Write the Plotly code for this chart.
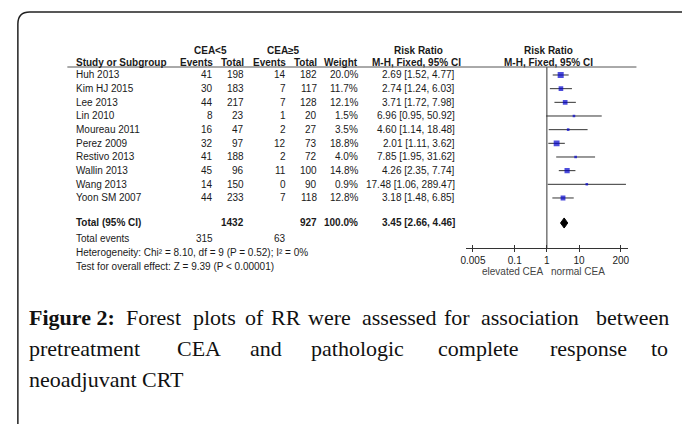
import plotly.graph_objects as go

# ---------------- data ----------------
studies = ["Huh 2013", "Kim HJ 2015", "Lee 2013", "Lin 2010", "Moureau 2011",
           "Perez 2009", "Restivo 2013", "Wallin 2013", "Wang 2013", "Yoon SM 2007"]
events_low = [41, 30, 44, 8, 16, 32, 41, 45, 14, 44]
total_low = [198, 183, 217, 23, 47, 97, 188, 96, 150, 233]
events_high = [14, 7, 7, 1, 2, 12, 2, 11, 0, 7]
total_high = [182, 117, 128, 20, 27, 73, 72, 100, 90, 118]
weights = [20.0, 11.7, 12.1, 1.5, 3.5, 18.8, 4.0, 14.8, 0.9, 12.8]
rr = [2.69, 2.74, 3.71, 6.96, 4.60, 2.01, 7.85, 4.26, 17.48, 3.18]
rr_lo = [1.52, 1.24, 1.72, 0.95, 1.14, 1.11, 1.95, 2.35, 1.06, 1.48]
rr_hi = [4.77, 6.03, 7.98, 50.92, 18.48, 3.62, 31.62, 7.74, 289.47, 6.85]
pooled = [3.45, 2.66, 4.46]
pooled_totals = [1432, 927]
pooled_events = [315, 63]
tick_vals = [0.005, 0.1, 1, 10, 200]
tick_text = ["0.005", "0.1", "1", "10", "200"]

W, H = 682, 424
def px(x):
    return x / W
def py(y):
    return 1 - y / H

SANS = "Liberation Sans, Arial, sans-serif"
SERIF = "Liberation Serif, Times New Roman, serif"
TXT = "#1a1a1a"

# row index positions (layout)
row_y = list(range(len(studies)))
total_row = 10.83
events_row = 12.0

fig = go.Figure()

# CI lines
lx, ly = [], []
for i in range(len(studies)):
    lx += [rr_lo[i], rr_hi[i], None]
    ly += [row_y[i], row_y[i], None]
fig.add_trace(go.Scatter(x=lx, y=ly, mode="lines", line=dict(color="#333333", width=1),
                         hoverinfo="skip", showlegend=False))
# null line
fig.add_trace(go.Scatter(x=[1, 1], y=[-0.585, 12.66], mode="lines",
                         line=dict(color="#333333", width=1), hoverinfo="skip",
                         showlegend=False, cliponaxis=False))
# squares
sizes = [max(2.6, 1.35 * w ** 0.5) for w in weights]
fig.add_trace(go.Scatter(x=rr, y=row_y, mode="markers",
                         marker=dict(symbol="square", size=sizes, color="#0000cc",
                                     line=dict(width=0)),
                         hoverinfo="skip", showlegend=False))
# diamond
h = 0.37
fig.add_trace(go.Scatter(x=[pooled[1], pooled[0], pooled[2], pooled[0], pooled[1]],
                         y=[total_row, total_row - h, total_row, total_row + h, total_row],
                         mode="lines", fill="toself", fillcolor="#000000",
                         line=dict(color="#000000", width=1), hoverinfo="skip",
                         showlegend=False))
# invisible trace for overlay axis
fig.add_trace(go.Scatter(x=[1], y=[-50], xaxis="x2", yaxis="y", mode="markers",
                         marker=dict(opacity=0), hoverinfo="skip", showlegend=False))

ann = []
def add(text, x, y, anchor="left", yref="y", bold=False, size=10, color=TXT, family=SANS):
    if bold:
        text = "<b>" + text + "</b>"
    ann.append(dict(text=text, x=px(x), y=(y if yref == "y" else py(y)), xref="paper",
                    yref=yref, xanchor=anchor, yanchor="middle", showarrow=False,
                    font=dict(family=family, size=size, color=color)))

# headers
add("CEA&lt;5", 207.5, 50, "center", "paper", True)
add("CEA≥5", 281.7, 50, "center", "paper", True)
add("Risk Ratio", 418, 50, "center", "paper", True)
add("Risk Ratio", 549, 50, "center", "paper", True)
add("Study or Subgroup", 70, 62.5, "left", "paper", True)
add("Events", 212.5, 62.5, "right", "paper", True)
add("Total", 244, 62.5, "right", "paper", True)
add("Events", 286, 62.5, "right", "paper", True)
add("Total", 317.5, 62.5, "right", "paper", True)
add("Weight", 359, 62.5, "right", "paper", True)
add("M-H, Fixed, 95% CI", 416, 62.5, "center", "paper", True)
add("M-H, Fixed, 95% CI", 549, 62.5, "center", "paper", True)

for i, s in enumerate(studies):
    y = row_y[i]
    add(s, 70, y, "left")
    add(str(events_low[i]), 212.5, y, "right")
    add(str(total_low[i]), 244, y, "right")
    add(str(events_high[i]), 286, y, "right")
    add(str(total_high[i]), 317.5, y, "right")
    add(f"{weights[i]:.1f}%", 359, y, "right")
    add(f"{rr[i]:.2f} [{rr_lo[i]:.2f}, {rr_hi[i]:.2f}]", 457, y, "right")

add("Total (95% CI)", 70, total_row, "left", bold=True)
add(str(pooled_totals[0]), 244, total_row, "right", bold=True)
add(str(pooled_totals[1]), 317.5, total_row, "right", bold=True)
add("100.0%", 359, total_row, "right", bold=True)
add(f"{pooled[0]:.2f} [{pooled[1]:.2f}, {pooled[2]:.2f}]", 457, total_row, "right", bold=True)
add("Total events", 70, events_row, "left")
add(str(pooled_events[0]), 212.5, events_row, "right")
add(str(pooled_events[1]), 286, events_row, "right")
add("Heterogeneity: Chi² = 8.10, df = 9 (P = 0.52); I² = 0%", 70, 252.5, "left", "paper")
add("Test for overall effect: Z = 9.39 (P &lt; 0.00001)", 70, 266.5, "left", "paper")

add("elevated CEA", 513, 271, "center", "paper", color="#444444")
add("normal CEA", 579, 271, "center", "paper", color="#444444")

# caption (justified lines placed word by word)
line1 = [("<b>Figure 2:</b>", 22), ("Forest", 120.5), ("plots", 188), ("of", 240.5),
         ("RR", 267), ("were", 304), ("assessed", 359), ("for", 442), ("association", 479),
         ("between", 595.5)]
line2 = [("pretreatment", 22), ("CEA", 172), ("and", 245.5), ("pathologic", 307),
         ("complete", 435.5), ("response", 549), ("to", 650.5)]
line3 = [("neoadjuvant CRT", 22)]
for words, yy in ((line1, 317.5), (line2, 348.5), (line3, 379.5)):
    for wtxt, xx in words:
        add(wtxt, xx, yy, "left", "paper", size=22, color="#111111", family=SERIF)

shapes = [
    # header underline
    dict(type="line", xref="paper", yref="paper", x0=px(63), x1=px(638), y0=py(67), y1=py(67),
         line=dict(color="#555555", width=1)),
    # outer rounded border
    dict(type="path", xref="paper", yref="paper",
         path=f"M {px(13)} {py(440)} L {px(13)} {py(24)} Q {px(13)} {py(12)} {px(25)} {py(12)} L {px(700)} {py(12)}",
         line=dict(color="#222222", width=1.5)),
]

xdom = [px(465.7), px(629.3)]
fig.update_layout(
    width=W, height=H, margin=dict(l=0, r=0, t=0, b=0),
    paper_bgcolor="white", plot_bgcolor="white",
    xaxis=dict(type="log", range=[-2.52, 2.52], domain=xdom, anchor="y",
               showline=True, linecolor="#333333", linewidth=1, showgrid=False, zeroline=False,
               ticks="outside", ticklen=3, tickcolor="#333333", tickvals=tick_vals,
               ticktext=tick_text, tickfont=dict(family=SANS, size=10, color=TXT)),
    xaxis2=dict(type="log", range=[-2.52, 2.52], domain=xdom, anchor="y", overlaying="x",
                showline=False, showgrid=False, zeroline=False, ticks="inside", ticklen=3,
                tickcolor="#333333", tickvals=tick_vals, showticklabels=False),
    yaxis=dict(range=[12.66, -0.585], domain=[py(248), py(67)], visible=False),
    annotations=ann, shapes=shapes,
)

fig.write_html("out.html", config={"displayModeBar": False},
               post_script="document.body.style.margin='0';document.body.style.padding='0';"
                           "document.body.style.overflow='hidden';")
